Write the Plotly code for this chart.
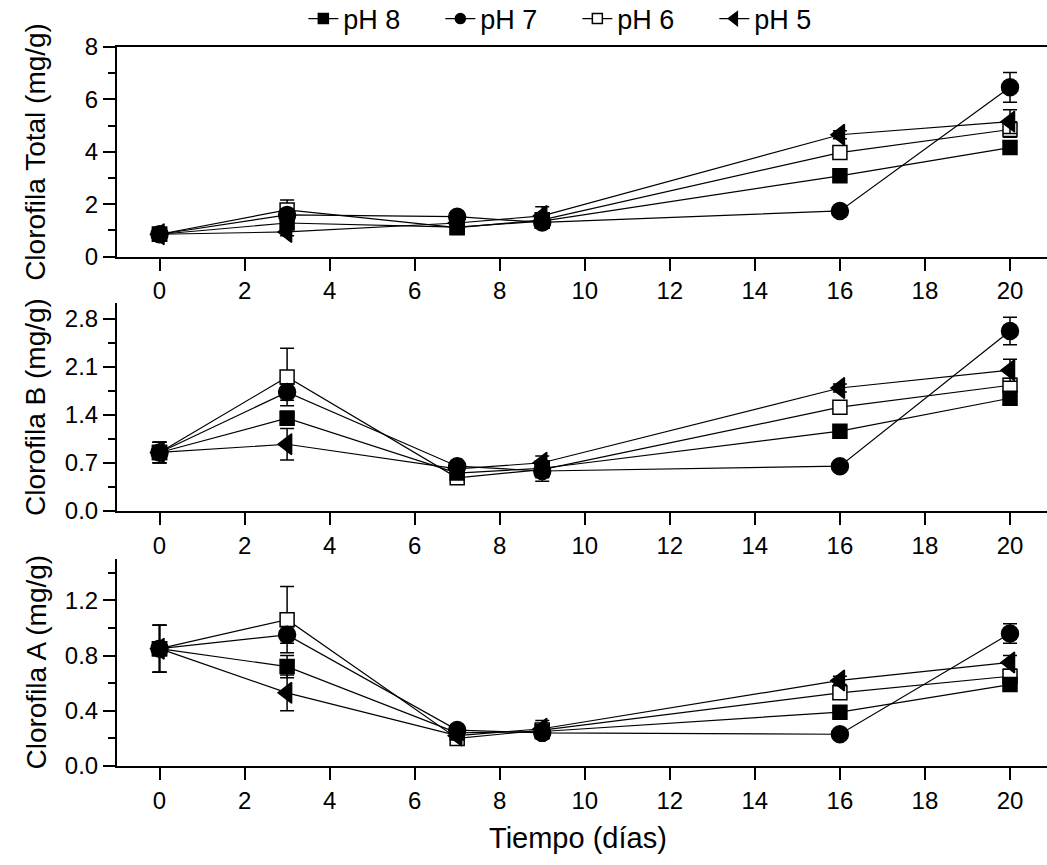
import plotly.graph_objects as go

# Sampling days
dias = [0, 3, 7, 9, 16, 20]

# Clorofila Total (mg/g)
total_ph8 = [0.85, 1.28, 1.12, 1.35, 3.08, 4.16]
total_ph7 = [0.85, 1.59, 1.52, 1.30, 1.74, 6.46]
total_ph6 = [0.85, 1.78, 1.10, 1.40, 3.97, 4.85]
total_ph5 = [0.85, 0.94, 1.28, 1.55, 4.65, 5.15]
total_err_ph8 = [0.10, 0.20, 0.08, 0.15, 0.15, 0.20]
total_err_ph7 = [0.10, 0.15, 0.08, 0.15, 0.10, 0.57]
total_err_ph6 = [0.10, 0.38, 0.10, 0.20, 0.20, 0.30]
total_err_ph5 = [0.10, 0.15, 0.10, 0.35, 0.15, 0.45]

# Clorofila B (mg/g)
clb_ph8 = [0.85, 1.35, 0.55, 0.62, 1.16, 1.64]
clb_ph7 = [0.85, 1.73, 0.65, 0.58, 0.65, 2.62]
clb_ph6 = [0.85, 1.95, 0.48, 0.60, 1.51, 1.83]
clb_ph5 = [0.85, 0.97, 0.61, 0.70, 1.79, 2.05]
clb_err_ph8 = [0.15, 0.10, 0.05, 0.10, 0.06, 0.06]
clb_err_ph7 = [0.15, 0.12, 0.05, 0.15, 0.05, 0.20]
clb_err_ph6 = [0.15, 0.42, 0.05, 0.12, 0.08, 0.10]
clb_err_ph5 = [0.15, 0.23, 0.05, 0.10, 0.06, 0.16]

# Clorofila A (mg/g)
cla_ph8 = [0.85, 0.72, 0.24, 0.25, 0.39, 0.59]
cla_ph7 = [0.85, 0.95, 0.26, 0.24, 0.23, 0.96]
cla_ph6 = [0.85, 1.06, 0.20, 0.26, 0.53, 0.65]
cla_ph5 = [0.85, 0.53, 0.22, 0.27, 0.62, 0.75]
cla_err_ph8 = [0.17, 0.08, 0.03, 0.04, 0.03, 0.03]
cla_err_ph7 = [0.17, 0.06, 0.03, 0.04, 0.02, 0.07]
cla_err_ph6 = [0.17, 0.24, 0.03, 0.04, 0.04, 0.04]
cla_err_ph5 = [0.17, 0.13, 0.03, 0.06, 0.03, 0.05]

series_names = ["pH 8", "pH 7", "pH 6", "pH 5"]
y_titles = ["Clorofila Total (mg/g)", "Clorofila B (mg/g)", "Clorofila A (mg/g)"]
x_title = "Tiempo (días)"

FONT = "Liberation Sans, Arial, Helvetica, sans-serif"

styles = {
    "pH 8": dict(symbol="square", size=14, color="black", line=dict(color="black", width=1.5)),
    "pH 7": dict(symbol="circle", size=17, color="black", line=dict(color="black", width=1.5)),
    "pH 6": dict(symbol="square", size=14, color="white", line=dict(color="black", width=1.5)),
    "pH 5": dict(symbol="triangle-left", size=18, color="black", line=dict(color="black", width=1.5)),
}

panels = [
    ("y", {"pH 8": (total_ph8, total_err_ph8), "pH 7": (total_ph7, total_err_ph7),
           "pH 6": (total_ph6, total_err_ph6), "pH 5": (total_ph5, total_err_ph5)}),
    ("y2", {"pH 8": (clb_ph8, clb_err_ph8), "pH 7": (clb_ph7, clb_err_ph7),
            "pH 6": (clb_ph6, clb_err_ph6), "pH 5": (clb_ph5, clb_err_ph5)}),
    ("y3", {"pH 8": (cla_ph8, cla_err_ph8), "pH 7": (cla_ph7, cla_err_ph7),
            "pH 6": (cla_ph6, cla_err_ph6), "pH 5": (cla_ph5, cla_err_ph5)}),
]
xrefs = ["x", "x2", "x3"]

fig = go.Figure()

draw_order = ["pH 6", "pH 7", "pH 8", "pH 5"]
for (yref, data), xref in zip(panels, xrefs):
    for name in draw_order:
        vals, errs = data[name]
        fig.add_trace(go.Scatter(
            x=dias, y=vals, name=name, mode="lines+markers",
            xaxis=xref, yaxis=yref, showlegend=False,
            line=dict(color="black", width=1.2),
            marker=styles[name],
            error_y=dict(type="data", array=errs, visible=True,
                         color="black", thickness=1.5, width=7),
        ))

# Legend entries
for name in series_names:
    st = dict(styles[name])
    st["size"] = 10 if name != "pH 5" else 12
    fig.add_trace(go.Scatter(
        x=[None], y=[None], name=name, mode="lines+markers",
        xaxis="x", yaxis="y",
        line=dict(color="black", width=1.2), marker=st,
    ))

axis_common = dict(
    showline=True, linecolor="black", linewidth=2,
    ticks="outside", ticklen=12, tickwidth=2, tickcolor="black",
    showgrid=False, zeroline=False,
    tickfont=dict(family=FONT, size=24, color="black"),
)

domains = [[0.7086, 1.0], [0.355, 0.644], [0.0, 0.288]]
for i, (dom, xref) in enumerate(zip(domains, xrefs)):
    sfx = "" if i == 0 else str(i + 1)
    fig.update_layout(**{
        f"xaxis{sfx}": dict(axis_common, range=[-1, 20.87], tick0=0, dtick=2,
                            anchor=f"y{sfx}", mirror=(i == 0)),
    })

fig.update_layout(
    yaxis=dict(axis_common, domain=domains[0], range=[0, 8], tick0=0, dtick=2,
               minor=dict(ticks="outside", ticklen=7, tickwidth=2, tickcolor="black", dtick=1),
               anchor="x"),
    yaxis2=dict(axis_common, domain=domains[1], range=[0, 3.03], tick0=0, dtick=0.7,
                tickformat=".1f",
                minor=dict(ticks="outside", ticklen=7, tickwidth=2, tickcolor="black", dtick=0.35),
                anchor="x2"),
    yaxis3=dict(axis_common, domain=domains[2], range=[0, 1.5], tick0=0, dtick=0.4,
                tickformat=".1f",
                minor=dict(ticks="outside", ticklen=7, tickwidth=2, tickcolor="black", dtick=0.2),
                anchor="x3"),
)

annotations = []
for title, dom in zip(y_titles, domains):
    annotations.append(dict(
        text=title, textangle=-90, xref="paper", yref="paper",
        x=-0.087, y=(dom[0] + dom[1]) / 2, xanchor="center", yanchor="middle",
        showarrow=False, font=dict(family=FONT, size=28, color="black"),
    ))
annotations.append(dict(
    text=x_title, xref="paper", yref="paper", x=0.496, y=-0.1,
    xanchor="center", yanchor="middle", showarrow=False,
    font=dict(family=FONT, size=29, color="black"),
))

fig.update_layout(
    width=1047, height=865,
    margin=dict(l=117, r=0, t=47, b=99, autoexpand=False),
    paper_bgcolor="white", plot_bgcolor="white",
    font=dict(family=FONT, color="black"),
    annotations=annotations,
    legend=dict(orientation="h", x=0.495, xanchor="center",
                yref="container", y=0.978, yanchor="middle",
                font=dict(family=FONT, size=27, color="black"),
                bgcolor="rgba(0,0,0,0)", entrywidth=92, entrywidthmode="pixels",
                tracegroupgap=0),
)

fig.write_html("out.html")
